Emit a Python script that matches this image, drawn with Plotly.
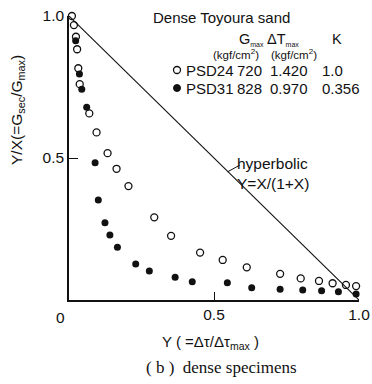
import plotly.graph_objects as go

# PSD24 (open circles)
psd24_x = [0.01, 0.017, 0.024, 0.028, 0.032, 0.037, 0.070, 0.095, 0.133, 0.164, 0.205,
           0.294, 0.352, 0.452, 0.530, 0.613, 0.728, 0.799, 0.862, 0.909, 0.955, 0.990]
psd24_y = [1.000, 0.968, 0.927, 0.883, 0.816, 0.760, 0.657, 0.590, 0.517, 0.462, 0.401,
           0.291, 0.226, 0.167, 0.141, 0.115, 0.092, 0.076, 0.067, 0.059, 0.053, 0.049]
# PSD31 (filled circles)
psd31_x = [0.023, 0.036, 0.044, 0.061, 0.090, 0.101, 0.124, 0.141, 0.167, 0.230, 0.277,
           0.366, 0.425, 0.546, 0.630, 0.728, 0.806, 0.871, 0.929, 0.990]
psd31_y = [0.913, 0.796, 0.742, 0.679, 0.483, 0.352, 0.272, 0.229, 0.186, 0.127, 0.102,
           0.080, 0.064, 0.061, 0.043, 0.038, 0.035, 0.033, 0.029, 0.021]
# hyperbolic: Y/X = 1 - Y
hyp_x = [0.0, 1.0]
hyp_y = [1.0, 0.0]

x_ticks = [0.5, 1.0]
x_ticklabels = ["0.5", "1.0"]
y_ticks = [0.5, 1.0]
y_ticklabels = ["0.5", "1.0"]

legend_names = ["PSD24", "PSD31"]
legend_gmax = ["720", "828"]
legend_tmax = ["1.420", "0.970"]
legend_k = ["1.0", "0.356"]

FONT = "Liberation Sans, Arial, sans-serif"
BLACK = "#111111"

fig = go.Figure()
fig.add_trace(go.Scatter(x=hyp_x, y=hyp_y, mode="lines",
                         line=dict(color=BLACK, width=1.1), showlegend=False,
                         hoverinfo="skip", cliponaxis=False))
fig.add_trace(go.Scatter(x=psd24_x, y=psd24_y, mode="markers",
                         marker=dict(symbol="circle-open", size=7, color=BLACK,
                                     line=dict(width=1.3, color=BLACK)),
                         showlegend=False, cliponaxis=False))
fig.add_trace(go.Scatter(x=psd31_x, y=psd31_y, mode="markers",
                         marker=dict(symbol="circle", size=7, color=BLACK),
                         showlegend=False, cliponaxis=False))

annotations = []
def txt(x, y, s, size=14, xanchor="left", family=FONT, yanchor="middle", angle=0):
    annotations.append(dict(x=x, y=y, xref="paper", yref="paper", text=s, showarrow=False,
                            xanchor=xanchor, yanchor=yanchor, textangle=angle,
                            borderpad=0, borderwidth=0,
                            font=dict(family=family, size=size, color=BLACK)))

def px_x(p):
    return (p - 69) / 290.0

def px_y(p):
    return (300 - p) / 284.0

SUB = "<sub><span style='font-size:7px'>max</span></sub>"
txt(px_x(153), px_y(17), "Dense Toyoura sand", size=15)
txt(px_x(239), px_y(39), "G" + SUB, size=14.5)
txt(px_x(267), px_y(39), "ΔT" + SUB, size=14.5)
txt(px_x(332), px_y(39), "K", size=14.5)
txt(px_x(213), px_y(54), "(kgf/cm<sup>2</sup>)", size=11.5)
txt(px_x(271), px_y(54), "(kgf/cm<sup>2</sup>)", size=11.5)
row_px = [70, 88]
row_y = [px_y(p) for p in row_px]
for i in range(2):
    txt(px_x(186), row_y[i], legend_names[i], size=15)
    txt(px_x(237), row_y[i], legend_gmax[i], size=15)
    txt(px_x(270), row_y[i], legend_tmax[i], size=15)
    txt(px_x(322), row_y[i], legend_k[i], size=15)
txt(px_x(237), px_y(163), "hyperbolic", size=15.5)
txt(px_x(237), px_y(183), "Y=X/(1+X)", size=15.5)
# corner zero label
txt(px_x(60), px_y(317), "0", size=15.5, xanchor="center")
# axis titles
txt(px_x(17), px_y(110), "Y/X(=G<sub>sec</sub>/G<sub>max</sub>)", size=15.5,
    xanchor="center", angle=-90)
txt(px_x(210), px_y(342), "Y ( =Δτ/Δτ<sub>max</sub> )", size=15, xanchor="center")
# caption
txt(px_x(221), px_y(367), "( b )  dense specimens", size=17, xanchor="center",
    family="Liberation Serif, Times New Roman, serif")

shapes = []
# legend symbols
sym_x = px_x(177)
shapes.append(dict(type="circle", xref="paper", yref="paper", xsizemode="pixel", ysizemode="pixel",
                   xanchor=sym_x, yanchor=row_y[0], x0=-3.5, x1=3.5, y0=-3.5, y1=3.5,
                   line=dict(color=BLACK, width=1.3), fillcolor="rgba(0,0,0,0)"))
shapes.append(dict(type="circle", xref="paper", yref="paper", xsizemode="pixel", ysizemode="pixel",
                   xanchor=sym_x, yanchor=row_y[1], x0=-3.5, x1=3.5, y0=-3.5, y1=3.5,
                   line=dict(color=BLACK, width=1), fillcolor=BLACK))
# leader line for hyperbolic label
shapes.append(dict(type="line", xref="x", yref="y", x0=0.548, y0=0.452, x1=px_x(240), y1=px_y(165),
                   line=dict(color=BLACK, width=1)))

fig.update_layout(
    width=372, height=384,
    margin=dict(l=69, r=13, t=16, b=84, autoexpand=False),
    paper_bgcolor="white", plot_bgcolor="white",
    showlegend=False,
    annotations=annotations, shapes=shapes,
    xaxis=dict(range=[0, 1], tickvals=x_ticks, ticktext=x_ticklabels, automargin=False,
               ticks="inside", ticklen=8, tickwidth=1.3, tickcolor=BLACK,
               showline=True, linecolor=BLACK, linewidth=1.6, showgrid=False,
               zeroline=False, tickfont=dict(family=FONT, size=15.5, color=BLACK)),
    yaxis=dict(range=[0, 1], tickvals=y_ticks, ticktext=y_ticklabels, automargin=False,
               ticks="inside", ticklen=9, tickwidth=1.3, tickcolor=BLACK,
               showline=True, linecolor=BLACK, linewidth=1.6, showgrid=False,
               zeroline=False, tickfont=dict(family=FONT, size=15.5, color=BLACK)),
)

fig.write_html("out.html")
